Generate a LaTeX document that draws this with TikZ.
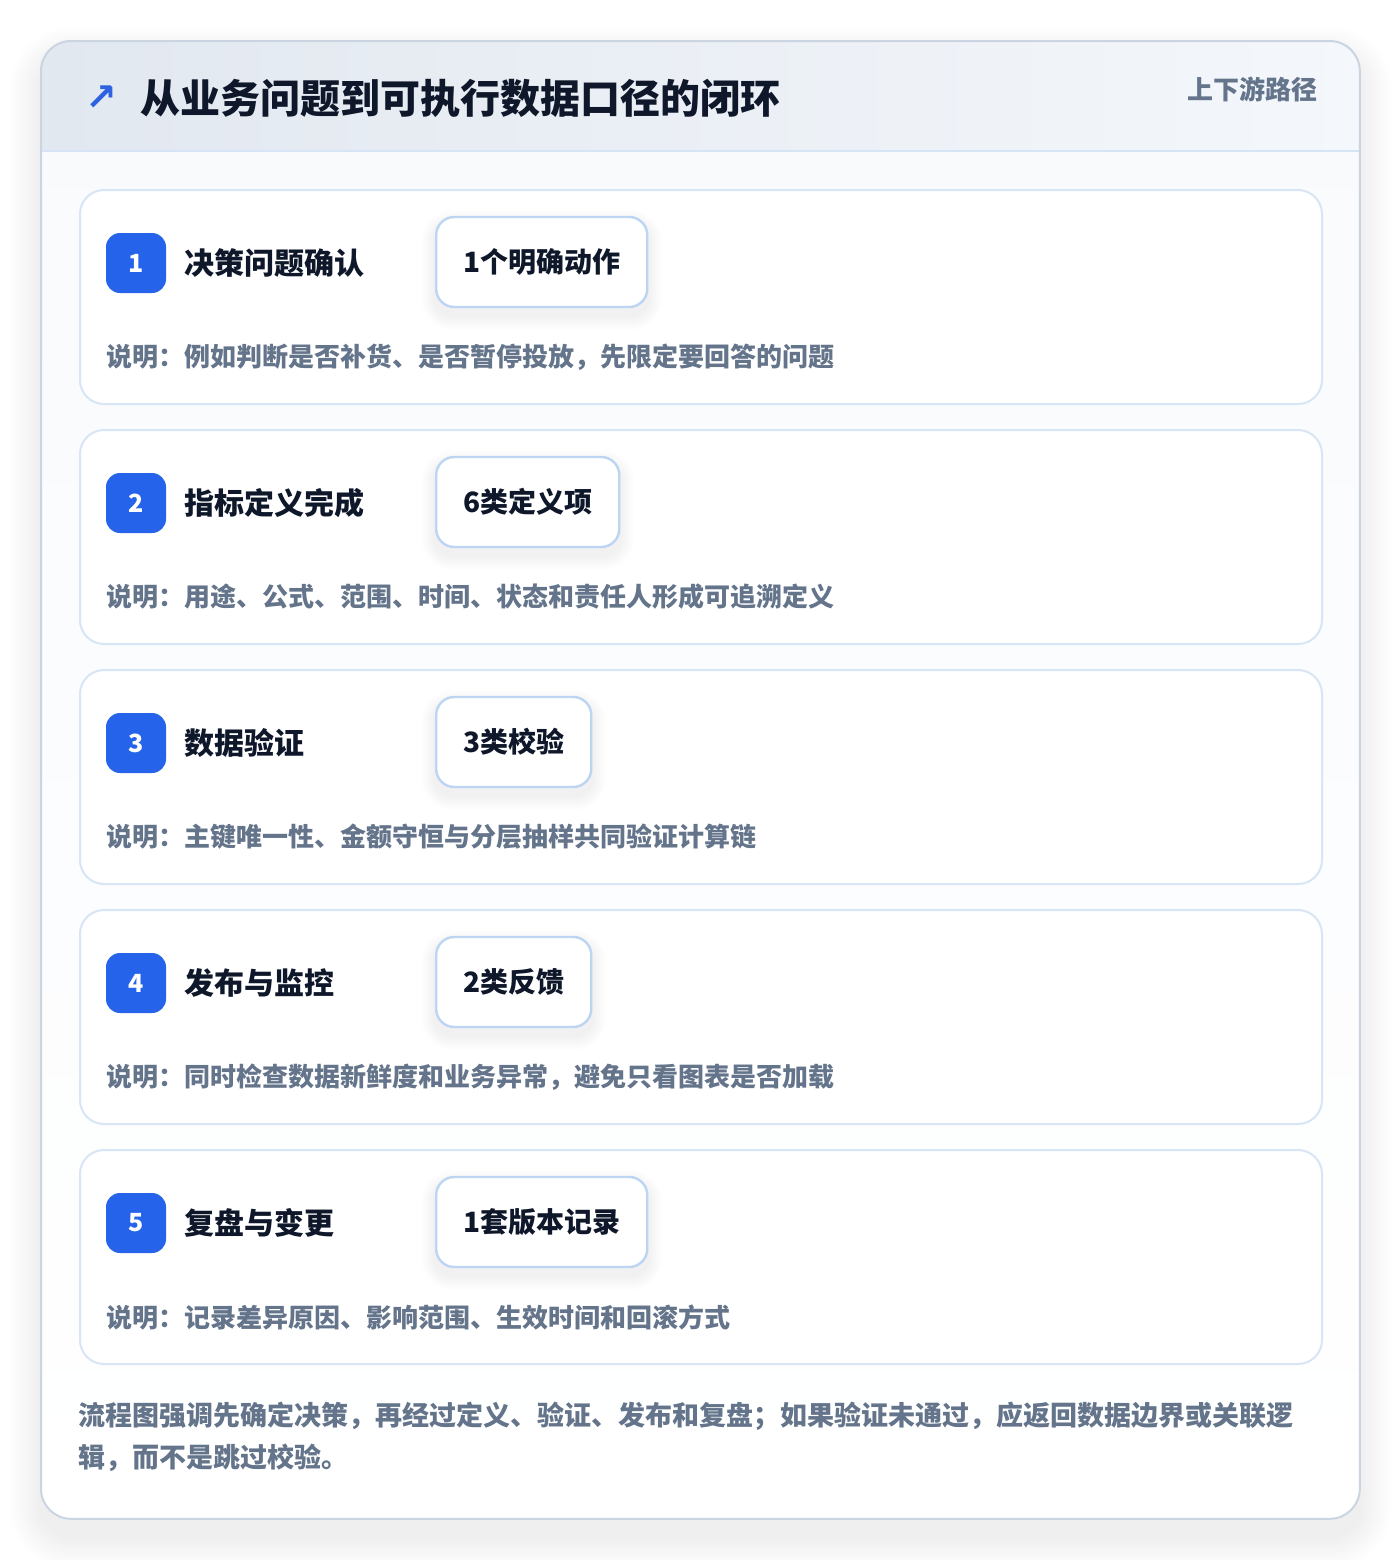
\documentclass[tikz,border=0pt]{standalone}
\usepackage{fontspec}
\setmainfont{Noto Sans CJK SC}
\newfontfamily\symfont{DejaVu Sans}
\usepackage{xcolor}
\definecolor{ink}{HTML}{0F172A}
\definecolor{muted}{HTML}{64748B}
\definecolor{badgeblue}{HTML}{2563EB}
\definecolor{iconblue}{HTML}{2D63E2}
\definecolor{cardline}{HTML}{D8E5F6}
\definecolor{chipline}{HTML}{BCD5F3}
\definecolor{frameline}{HTML}{CBD5E2}
\definecolor{panelbg}{HTML}{F8FAFC}
\definecolor{headleft}{HTML}{E2E8F0}
\definecolor{headright}{HTML}{F4F7FB}
\definecolor{headline}{HTML}{D6E4F5}
\usepackage{tikz}
\usetikzlibrary{calc}

\pgfdeclarelayer{base}
\pgfdeclarelayer{cards}
\pgfdeclarelayer{shade}
\pgfsetlayers{base,cards,shade,main}

% soft drop shadow behind a node: node, y offset, steps, corner radius (pt), step opacity
\newcommand\softshadow[5]{%
  \begin{pgfonlayer}{shade}
    \foreach \d in {1,...,#3}{
      \pgfmathsetmacro\rr{#4+\d*0.5}
      \fill[black,opacity=#5,rounded corners=\rr pt]
        ($(#1.north west)+(-\d,#2-\d)$) rectangle ($(#1.south east)+(\d,#2+\d)$);
    }
  \end{pgfonlayer}}

\tikzset{
  panelbox/.style={minimum width=659pt,minimum height=738.5pt,anchor=north west,inner sep=0pt},
  stepcard/.style={draw=cardline,fill=white,line width=1pt,rounded corners=12pt,
    minimum width=621pt,minimum height=107pt,anchor=north west,inner sep=0pt},
  badge/.style={fill=badgeblue,rounded corners=7pt,minimum size=30pt,inner sep=0pt,
    text=white,font=\bfseries\fontsize{12.5}{14}\selectfont},
  steptitle/.style={anchor=west,inner sep=0pt,text=ink,font=\bfseries\fontsize{15}{18}\selectfont},
  chip/.style={draw=chipline,fill=white,line width=1.2pt,rounded corners=9pt,minimum height=45pt,
    inner xsep=13.5pt,anchor=west,text=ink,font=\bfseries\fontsize{14}{17}\selectfont},
  note/.style={anchor=west,inner sep=0pt,text=muted,font=\bfseries\fontsize{13}{16}\selectfont}
}

\begin{document}
\begin{tikzpicture}[x=0.5pt,y=-0.5pt]
  \useasboundingbox (0,0) rectangle (1400,1560);

  % outer panel with header band
  \begin{pgfonlayer}{base}
    \fill[white] (0,0) rectangle (1400,1560);
    \node[panelbox] (panel) at (41,41) {};
    \foreach \d in {2,4,...,32}{
      \pgfmathsetmacro\rr{15+\d*0.5}
      \fill[black,opacity=0.004,rounded corners=\rr pt]
        ($(panel.north west)+(-\d,18-\d)$) rectangle ($(panel.south east)+(\d,18+\d)$);
    }
    \fill[white,rounded corners=15pt] (panel.north west) rectangle (panel.south east);
    \begin{scope}
      \clip[rounded corners=15pt] (panel.north west) rectangle (panel.south east);
      \shade[top color=panelbg,bottom color=white] (panel.north west) rectangle (panel.south east);
      \shade[left color=headleft,right color=headright] (panel.north west) rectangle ($(panel.north east)+(0,110)$);
      \draw[headline,line width=1pt] ($(panel.north west)+(0,110)$) -- ($(panel.north east)+(0,110)$);
    \end{scope}
    \draw[frameline,line width=1pt,rounded corners=15pt] (panel.north west) rectangle (panel.south east);
  \end{pgfonlayer}

  \node[text=iconblue,font=\symfont\bfseries\fontsize{19}{22}\selectfont] (icon) at (101,98) {↗};
  \node[anchor=west,inner sep=0pt,text=ink,font=\bfseries\fontsize{20}{24}\selectfont]
    (title) at (140,98) {从业务问题到可执行数据口径的闭环};
  \node[anchor=east,inner sep=0pt,text=muted,font=\bfseries\fontsize{13}{16}\selectfont]
    (path) at (1318,89) {上下游路径};

  \begin{pgfonlayer}{cards}
    \node[stepcard] (card1) at (79,189) {};
    \node[stepcard] (card2) at (79,429) {};
    \node[stepcard] (card3) at (79,669) {};
    \node[stepcard] (card4) at (79,909) {};
    \node[stepcard] (card5) at (79,1149) {};
  \end{pgfonlayer}

  % step 1
  \node[badge] (num1) at (136,263) {1};
  \node[steptitle] (name1) at (184,263) {决策问题确认};
  \node[chip] (chip1) at (435,262) {1个明确动作};
  \node[note] (desc1) at (106,357) {说明：例如判断是否补货、是否暂停投放，先限定要回答的问题};

  % step 2
  \node[badge] (num2) at (136,503) {2};
  \node[steptitle] (name2) at (184,503) {指标定义完成};
  \node[chip] (chip2) at (435,502) {6类定义项};
  \node[note] (desc2) at (106,597) {说明：用途、公式、范围、时间、状态和责任人形成可追溯定义};

  % step 3
  \node[badge] (num3) at (136,743) {3};
  \node[steptitle] (name3) at (184,743) {数据验证};
  \node[chip] (chip3) at (435,742) {3类校验};
  \node[note] (desc3) at (106,837) {说明：主键唯一性、金额守恒与分层抽样共同验证计算链};

  % step 4
  \node[badge] (num4) at (136,983) {4};
  \node[steptitle] (name4) at (184,983) {发布与监控};
  \node[chip] (chip4) at (435,982) {2类反馈};
  \node[note] (desc4) at (106,1077) {说明：同时检查数据新鲜度和业务异常，避免只看图表是否加载};

  % step 5
  \node[badge] (num5) at (136,1223) {5};
  \node[steptitle] (name5) at (184,1223) {复盘与变更};
  \node[chip] (chip5) at (435,1222) {1套版本记录};
  \node[note] (desc5) at (106,1317) {说明：记录差异原因、影响范围、生效时间和回滚方式};

  % chip shadows
  \softshadow{chip1}{8}{14}{9}{0.004}
  \softshadow{chip2}{8}{14}{9}{0.004}
  \softshadow{chip3}{8}{14}{9}{0.004}
  \softshadow{chip4}{8}{14}{9}{0.004}
  \softshadow{chip5}{8}{14}{9}{0.004}

  \node[anchor=base west,inner sep=0pt,align=left,text=muted,
    font=\bfseries\fontsize{13.5}{21}\selectfont] (summary) at (78,1467)
    {流程图强调先确定决策，再经过定义、验证、发布和复盘；如果验证未通过，应返回数据边界或关联逻\\辑，而不是跳过校验。};
\end{tikzpicture}
\end{document}
